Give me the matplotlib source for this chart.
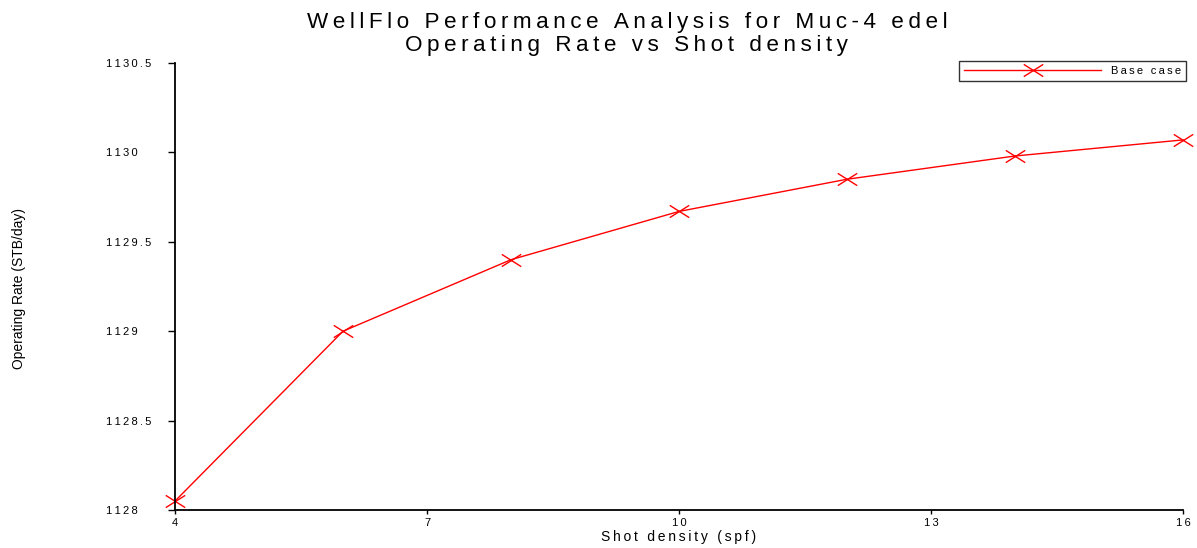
import numpy as np
import matplotlib
matplotlib.use("Agg")
import matplotlib.pyplot as plt
from matplotlib.path import Path
from matplotlib.ticker import FuncFormatter

shot_density = [4, 6, 8, 10, 12, 14, 16]
operating_rate = [1128.05, 1129.0, 1129.4, 1129.67, 1129.85, 1129.98, 1130.07]
x_ticks = [4, 7, 10, 13, 16]
y_ticks = [1128, 1128.5, 1129, 1129.5, 1130, 1130.5]

TS = "\u2009"  # thin space for the letter spaced look


def spaced(s):
    return (TS + " " + TS).join(TS.join(w) for w in s.split(" "))


# wide, flat cross like the original
cross = Path([(-1, -0.63), (1, 0.63), (-1, 0.63), (1, -0.63)],
             [Path.MOVETO, Path.LINETO, Path.MOVETO, Path.LINETO])

plt.rcParams['font.family'] = ['Liberation Sans', 'DejaVu Sans']

fig = plt.figure(figsize=(11.97, 5.48), dpi=100)
ax = fig.add_axes([0.1462, 0.0693, 0.8421, 0.8157])

ax.plot(shot_density, operating_rate, color='red', lw=1, marker=cross,
        markersize=14, mew=1, mfc='none', label=spaced("Base case"), clip_on=False)

ax.set_xlim(4, 16)
ax.set_ylim(1128, 1130.5)
ax.set_xticks(x_ticks)
ax.set_yticks(y_ticks)
ax.xaxis.set_major_formatter(FuncFormatter(lambda v, p: spaced("%g" % v)))
ax.yaxis.set_major_formatter(FuncFormatter(lambda v, p: spaced("%g" % v)))

for side in ['top', 'right']:
    ax.spines[side].set_visible(False)
for side in ['left', 'bottom']:
    ax.spines[side].set_linewidth(1.3)

ax.tick_params(axis='y', length=5, width=1, labelsize=8, pad=45)
ax.tick_params(axis='x', length=3, width=1, labelsize=8, pad=3)
for lab in ax.get_yticklabels():
    lab.set_horizontalalignment('left')

ax.set_xlabel(spaced("Shot density (spf)"), fontsize=10, labelpad=1)
fig.text(0.016, 0.474, "Operating Rate (STB/day)", rotation=90, fontsize=10,
         ha='center', va='center')

fig.text(0.524, 0.949, spaced("WellFlo Performance Analysis for Muc-4 edel"),
         ha='center', va='baseline', fontsize=16.2)
fig.text(0.523, 0.907, spaced("Operating Rate vs Shot density"),
         ha='center', va='baseline', fontsize=16.2)

leg = ax.legend(loc='upper right', bbox_to_anchor=(0.9908, 0.8887),
                bbox_transform=fig.transFigure, fontsize=8, frameon=True,
                fancybox=False, handlelength=12.3, borderpad=0.45, handletextpad=0.9,
                borderaxespad=0)
leg.get_frame().set_edgecolor('black')
leg.get_frame().set_linewidth(1)

fig.savefig("out.png", dpi=100)
